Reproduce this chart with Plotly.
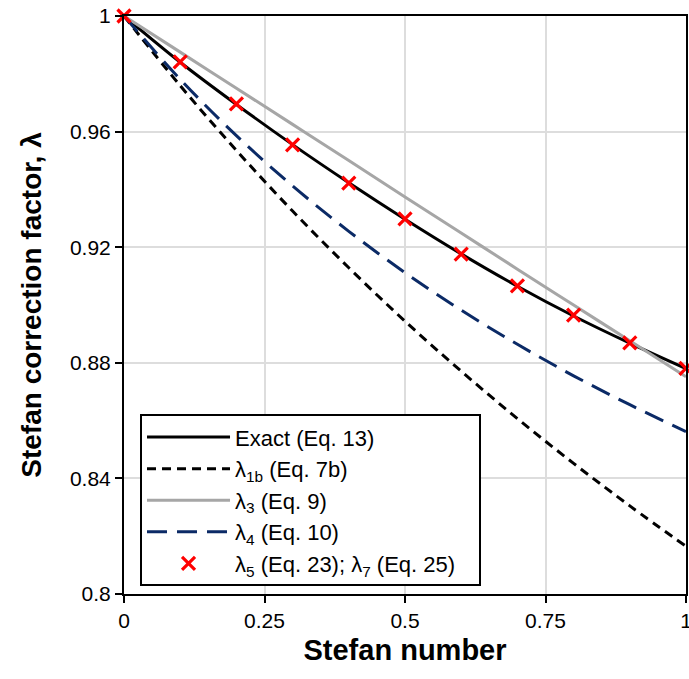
import plotly.graph_objects as go

stefan = [0, 0.1, 0.2, 0.3, 0.4, 0.5, 0.6, 0.7, 0.8, 0.9, 1.0]
exact = [1.0, 0.9840, 0.9694, 0.9555, 0.9423, 0.9297, 0.9177, 0.9065, 0.8962, 0.8868, 0.8780]
lam1b = [1.0, 0.9759, 0.9535, 0.9325, 0.9129, 0.8944, 0.8771, 0.8607, 0.8452, 0.8305, 0.8165]
lam3 = [1.0, 0.9875, 0.9750, 0.9625, 0.9500, 0.9374, 0.9249, 0.9124, 0.9000, 0.8876, 0.8752]
lam4 = [1.0, 0.9781, 0.9586, 0.9412, 0.9255, 0.9112, 0.8982, 0.8864, 0.8755, 0.8655, 0.8562]
lam57 = [1.0, 0.9841, 0.9696, 0.9554, 0.9422, 0.9298, 0.9176, 0.9066, 0.8965, 0.8869, 0.8781]

x_ticks = [0, 0.25, 0.5, 0.75, 1]
x_labels = ["0", "0.25", "0.5", "0.75", "1"]
y_ticks = [0.8, 0.84, 0.88, 0.92, 0.96, 1.0]
y_labels = ["0.8", "0.84", "0.88", "0.92", "0.96", "1"]

names = ["Exact (Eq. 13)", "λ<sub>1b</sub> (Eq. 7b)", "λ<sub>3</sub> (Eq. 9)",
         "λ<sub>4</sub> (Eq. 10)",
         "λ<sub>5</sub> (Eq. 23); λ<sub>7</sub> (Eq. 25)\u00a0\u00a0\u00a0"]

FONT = "Liberation Sans, Arial, sans-serif"

fig = go.Figure()
fig.add_trace(go.Scatter(x=stefan, y=exact, mode="lines", name=names[0],
                         line=dict(color="black", width=3, shape="spline")))
fig.add_trace(go.Scatter(x=stefan, y=lam1b, mode="lines", name=names[1],
                         line=dict(color="black", width=3, dash="9px,6px", shape="spline")))
fig.add_trace(go.Scatter(x=stefan, y=lam3, mode="lines", name=names[2],
                         line=dict(color="#a6a6a6", width=3, shape="spline")))
fig.add_trace(go.Scatter(x=stefan, y=lam4, mode="lines", name=names[3],
                         line=dict(color="#0b2a66", width=3, dash="20px,10px", shape="spline")))
fig.add_trace(go.Scatter(x=stefan, y=lam57, mode="markers", name=names[4], cliponaxis=False,
                         marker=dict(symbol="x-thin", size=13, color="red",
                                     line=dict(color="red", width=3.2))))

fig.update_layout(
    width=689, height=679,
    margin=dict(l=124, r=3, t=16, b=85),
    paper_bgcolor="white", plot_bgcolor="white",
    font=dict(family=FONT, size=21, color="black"),
    showlegend=True,
    legend=dict(x=0.0285, y=0.311, xanchor="left", yanchor="top",
                bgcolor="white", bordercolor="black", borderwidth=2,
                font=dict(family=FONT, size=22, color="black"),
                tracegroupgap=0, itemwidth=83),
)
fig.update_xaxes(
    range=[0, 1], tickvals=x_ticks, ticktext=x_labels,
    showgrid=True, gridcolor="#dddddd", gridwidth=1.5,
    showline=True, linecolor="black", linewidth=2, mirror=True,
    ticks="outside", ticklen=7, tickwidth=2, tickcolor="black",
    zeroline=False, automargin=False, ticklabeloverflow="allow",
    tickfont=dict(family=FONT, size=21, color="black"),
    title=dict(text="<b>Stefan number</b>", font=dict(family=FONT, size=29, color="black"),
               standoff=8),
)
fig.update_yaxes(
    range=[0.8, 1.0], tickvals=y_ticks, ticktext=y_labels,
    showgrid=True, gridcolor="#dddddd", gridwidth=1.5,
    showline=True, linecolor="black", linewidth=2, mirror=True,
    ticks="outside", ticklen=7, tickwidth=2, tickcolor="black",
    zeroline=False, automargin=False, ticklabeloverflow="allow",
    tickfont=dict(family=FONT, size=21, color="black"),
    title=dict(text="<b>Stefan correction factor, λ</b>",
               font=dict(family=FONT, size=28, color="black"), standoff=20),
)

fig.write_html(
    "out.html",
    config={"displayModeBar": False},
    post_script="document.body.style.margin='0';document.body.style.overflow='hidden';",
)
